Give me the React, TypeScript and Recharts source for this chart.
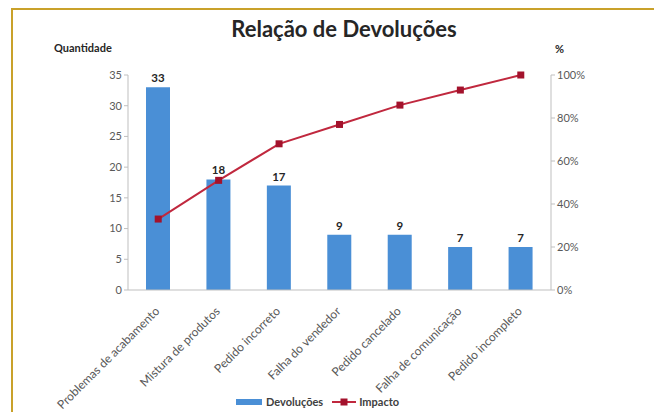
import React from "react";
import {
  ComposedChart,
  Bar,
  Line,
  XAxis,
  YAxis,
  LabelList,
} from "recharts";

const categories = [
  "Problemas de acabamento",
  "Mistura de produtos",
  "Pedido incorreto",
  "Falha do vendedor",
  "Pedido cancelado",
  "Falha de comunicação",
  "Pedido incompleto",
];
const devolucoes = [33, 18, 17, 9, 9, 7, 7];
const impacto = [33, 51, 68, 77, 86, 93, 100];
const leftTicks = [0, 5, 10, 15, 20, 25, 30, 35];
const rightTicks = [0, 20, 40, 60, 80, 100];

const data = categories.map((name, i) => ({
  name,
  devolucoes: devolucoes[i],
  impacto: impacto[i],
}));

const FONT = "Lato, 'Liberation Sans', sans-serif";
const BAR = "#4a8fd6";
const LINE = "#c0283e";
const MARK = "#a3122c";

const AngledTick = (props: any) => {
  const { x, y, payload } = props;
  const tx = x + 2;
  const ty = y + 14;
  return (
    <text
      x={tx}
      y={ty}
      textAnchor="end"
      transform={`rotate(-45 ${tx} ${ty})`}
      fontSize={12}
      fill="#595959"
      fontFamily={FONT}
    >
      {payload.value}
    </text>
  );
};

const SquareDot = (props: any) => {
  const { cx, cy } = props;
  return <rect x={cx - 3.5} y={cy - 3.5} width={7} height={7} fill={MARK} />;
};

export default function App() {
  return (
    <div
      style={{
        position: "absolute",
        left: 0,
        top: 0,
        width: 654,
        height: 412,
        background: "#fff",
        overflow: "hidden",
        fontFamily: FONT,
      }}
    >
      <div
        style={{
          position: "absolute",
          left: 11,
          top: 8,
          width: 700,
          height: 500,
          borderLeft: "2px solid #c9a12a",
          borderTop: "2px solid #c9a12a",
        }}
      />
      <div
        style={{
          position: "absolute",
          left: 0,
          width: 688,
          top: 15,
          textAlign: "center",
          fontSize: 22,
          fontWeight: 700,
          color: "#262626",
        }}
      >
        Relação de Devoluções
      </div>
      <div
        style={{
          position: "absolute",
          left: 54,
          top: 41,
          fontSize: 11,
          fontWeight: 700,
          color: "#262626",
        }}
      >
        Quantidade
      </div>
      <div
        style={{
          position: "absolute",
          left: 555,
          top: 42,
          fontSize: 11,
          fontWeight: 700,
          color: "#262626",
        }}
      >
        %
      </div>
      <div style={{ position: "absolute", left: 0, top: 0 }}>
        <ComposedChart
          width={654}
          height={412}
          data={data}
          margin={{ top: 75, right: 53, bottom: 22, left: 88 }}
        >
          <XAxis
            dataKey="name"
            xAxisId="x"
            tick={<AngledTick />}
            interval={0}
            height={100}
            axisLine={{ stroke: "#bfbfbf" }}
            tickLine={false}
          />
          <YAxis
            yAxisId="left"
            domain={[0, 35]}
            ticks={leftTicks}
            width={40}
            tick={{ fontSize: 11, fill: "#595959", fontFamily: FONT }}
            axisLine={{ stroke: "#bfbfbf" }}
            tickLine={{ stroke: "#bfbfbf" }}
            tickSize={4}
          />
          <YAxis
            yAxisId="right"
            orientation="right"
            domain={[0, 100]}
            ticks={rightTicks}
            width={50}
            tickFormatter={(v) => `${v}%`}
            tick={{ fontSize: 11, fill: "#595959", fontFamily: FONT }}
            axisLine={{ stroke: "#bfbfbf" }}
            tickLine={{ stroke: "#bfbfbf" }}
            tickSize={4}
          />
          <Bar
            dataKey="devolucoes"
            xAxisId="x"
            yAxisId="left"
            fill={BAR}
            barSize={24}
            isAnimationActive={false}
          >
            <LabelList
              dataKey="devolucoes"
              position="top"
              offset={5}
              style={{
                fontSize: 11.5,
                fontWeight: 700,
                fill: "#262626",
                fontFamily: FONT,
              }}
            />
          </Bar>
          <Line
            dataKey="impacto"
            xAxisId="x"
            yAxisId="right"
            stroke={LINE}
            strokeWidth={2}
            dot={<SquareDot />}
            activeDot={false}
            isAnimationActive={false}
          />
        </ComposedChart>
      </div>
      <div
        style={{
          position: "absolute",
          left: 236,
          top: 395,
          display: "flex",
          alignItems: "center",
          fontSize: 11,
          fontWeight: 700,
          color: "#404040",
        }}
      >
        <div style={{ width: 26, height: 6, background: BAR, marginRight: 4 }} />
        <span style={{ marginRight: 9 }}>Devoluções</span>
        <svg width={24} height={8} style={{ marginRight: 3 }}>
          <line x1={0} y1={4} x2={24} y2={4} stroke={LINE} strokeWidth={2} />
          <rect x={8.5} y={0.5} width={7} height={7} fill={MARK} />
        </svg>
        <span>Impacto</span>
      </div>
    </div>
  );
}
